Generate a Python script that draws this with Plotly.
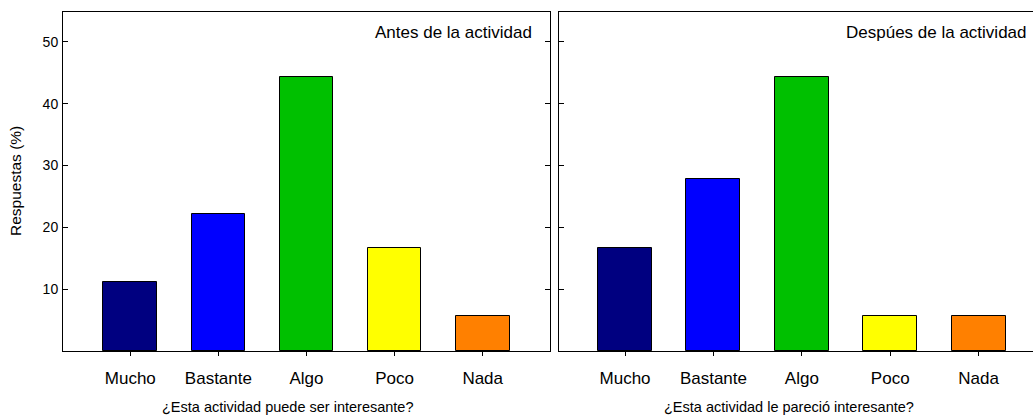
import plotly.graph_objects as go

categories = ["Mucho", "Bastante", "Algo", "Poco", "Nada"]
antes = [11.1, 22.2, 44.4, 16.7, 5.6]
despues = [16.7, 27.8, 44.4, 5.6, 5.6]
bar_colors = ["#000080", "#0000FF", "#00C000", "#FFFF00", "#FF8000"]
y_ticks = [10, 20, 30, 40, 50]

W, H = 1033, 419
FONT = "Arial, Liberation Sans, sans-serif"


def px(x):
    return x / W


def py(y):
    return 1 - y / H


fig = go.Figure()
fig.add_trace(go.Bar(x=categories, y=antes, width=0.61,
                     marker=dict(color=bar_colors, line=dict(color="black", width=1)),
                     xaxis="x", yaxis="y", showlegend=False))
fig.add_trace(go.Bar(x=categories, y=despues, width=0.61,
                     marker=dict(color=bar_colors, line=dict(color="black", width=1)),
                     xaxis="x2", yaxis="y2", showlegend=False))

xcommon = dict(showline=True, linecolor="black", linewidth=1, ticks="outside",
               ticklen=4, tickcolor="black", tickfont=dict(size=17, color="black", family=FONT),
               ticklabelstandoff=8,
               showgrid=False, zeroline=False, mirror=True, fixedrange=True)
ycommon = dict(showline=True, linecolor="black", linewidth=1, ticks="inside",
               ticklen=5, tickcolor="black", tickvals=y_ticks, range=[0, 54.85],
               showgrid=False, zeroline=False, fixedrange=True,
               domain=[py(351), py(12)])

fig.update_layout(
    width=W, height=H,
    margin=dict(l=0, r=0, t=0, b=0, pad=0),
    paper_bgcolor="white", plot_bgcolor="white",
    font=dict(family=FONT, color="black"),
    bargap=0,
    xaxis=dict(domain=[px(63), px(550)], range=[-0.764, 4.764], anchor="y", **xcommon),
    xaxis2=dict(domain=[px(559), 1], range=[-0.747, 4.615], anchor="y2", **xcommon),
    yaxis=dict(anchor="x", mirror="ticks", ticklabelstandoff=1,
               tickfont=dict(size=14, color="black", family=FONT), **ycommon),
    yaxis2=dict(anchor="x2", mirror=False, showticklabels=False, **ycommon),
    annotations=[
        dict(text="Antes de la actividad", x=px(534), y=py(32), xref="paper", yref="paper",
             xanchor="right", yanchor="middle", showarrow=False, font=dict(size=17)),
        dict(text="Despúes de la actividad", x=px(1029), y=py(32), xref="paper", yref="paper",
             xanchor="right", yanchor="middle", showarrow=False, font=dict(size=17)),
        dict(text="¿Esta actividad puede ser interesante?", x=px(160), y=py(407), xref="paper", yref="paper",
             xanchor="left", yanchor="middle", showarrow=False, font=dict(size=14.5)),
        dict(text="¿Esta actividad le pareció interesante?", x=px(662), y=py(407), xref="paper", yref="paper",
             xanchor="left", yanchor="middle", showarrow=False, font=dict(size=14.5)),
        dict(text="Respuestas (%)", x=px(15), y=py(181), xref="paper", yref="paper",
             xanchor="center", yanchor="middle", textangle=-90, showarrow=False, font=dict(size=15.5)),
    ],
)

fig.write_html("out.html")
